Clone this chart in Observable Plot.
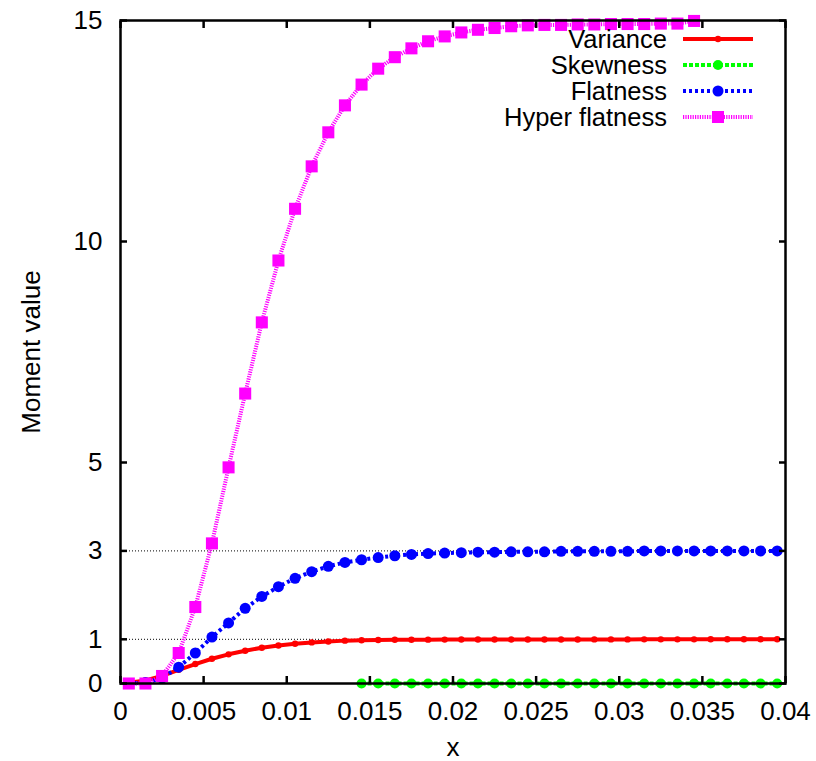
<!DOCTYPE html>
<html><head><meta charset="utf-8">
<script src="https://cdn.jsdelivr.net/npm/d3@7"></script>
<script src="https://cdn.jsdelivr.net/npm/@observablehq/plot@0.6"></script>
<style>
body{margin:0;background:#fff;}
#wrap{position:relative;width:816px;height:761px;font-family:"Liberation Sans",Arial,sans-serif;}
#legend{position:absolute;left:0;top:0;pointer-events:none;}
</style></head><body><div id="wrap"></div>
<script>
const xValues = [0.0005,0.0015,0.0025,0.0035,0.0045,0.0055,0.0065,0.0075,0.0085,0.0095,
  0.0105,0.0115,0.0125,0.0135,0.0145,0.0155,0.0165,0.0175,0.0185,0.0195,
  0.0205,0.0215,0.0225,0.0235,0.0245,0.0255,0.0265,0.0275,0.0285,0.0295,
  0.0305,0.0315,0.0325,0.0335,0.0345,0.0355,0.0365,0.0375,0.0385,0.0395];
const varianceValues = [0.02,0.07,0.17,0.31,0.44,0.56,0.66,0.74,0.81,0.86,
  0.90,0.93,0.95,0.97,0.98,0.985,0.99,0.99,0.992,0.993,
  0.994,0.995,0.995,0.996,0.996,0.997,0.997,0.997,0.998,0.998,
  0.998,0.999,0.999,0.999,0.999,1.0,1.0,1.0,1.0,1.0];
const skewnessValues = [null,null,null,null,null,null,null,null,null,null,
  null,null,null,null,0,0,0,0,0,0,
  0,0,0,0,0,0,0,0,0,0,
  0,0,0,0,0,0,0,0,0,0];
const flatnessValues = [0.0,0.02,0.12,0.37,0.69,1.05,1.37,1.70,1.97,2.19,
  2.38,2.53,2.65,2.74,2.80,2.85,2.89,2.92,2.94,2.95,
  2.96,2.97,2.97,2.98,2.98,2.98,2.99,2.99,2.99,2.99,
  2.99,3.0,3.0,3.0,3.0,3.0,3.0,3.0,3.0,3.0];
const hyperFlatnessValues = [0,0,0.17,0.69,1.73,3.17,4.89,6.56,8.17,9.57,
  10.74,11.70,12.47,13.08,13.55,13.91,14.17,14.37,14.53,14.64,
  14.73,14.79,14.83,14.87,14.89,14.90,14.90,14.91,14.91,14.92,
  14.92,14.92,14.93,14.93,14.99,null,null,null,null,null];

const seriesNames = ["Variance","Skewness","Flatness","Hyper flatness"];
const seriesColors = ["#ff0000","#00ff00","#0000ff","#ff00ff"];
const xTicks = [0,0.005,0.01,0.015,0.02,0.025,0.03,0.035,0.04];
const xTickLabels = ["0","0.005","0.01","0.015","0.02","0.025","0.03","0.035","0.04"];
const yTicks = [0,1,3,5,10,15];
const gridLines = [1,3];

// styles (not data)
const styles = {
  "Variance":       {dash: null,      r: 3.2, symbol: "circle", width: 4},
  "Skewness":       {dash: "4,2",     r: 5,   symbol: "circle", width: 4},
  "Flatness":       {dash: "3,3",     r: 5.5, symbol: "circle", width: 4},
  "Hyper flatness": {dash: "1.2,1.2", r: 6.8, symbol: "square", width: 4}
};

const seriesValues = [varianceValues, skewnessValues, flatnessValues, hyperFlatnessValues];
const table = seriesNames.map((name, s) =>
  xValues.map((x, i) => ({series: name, x, y: seriesValues[s][i]})).filter(d => d.y !== null));

const marks = [
  Plot.ruleY(gridLines, {stroke: "#000", strokeWidth: 1, strokeDasharray: "1,2"})
];
seriesNames.forEach((name, s) => {
  const st = styles[name];
  marks.push(Plot.line(table[s], {x: "x", y: "y", stroke: seriesColors[s], strokeWidth: st.width,
    strokeDasharray: st.dash, strokeLinecap: "butt"}));
});
seriesNames.forEach((name, s) => {
  const st = styles[name];
  marks.push(Plot.dot(table[s], {x: "x", y: "y", fill: seriesColors[s], r: st.r, symbol: st.symbol, stroke: "none"}));
});
marks.push(
  Plot.frame({stroke: "#000", strokeWidth: 2.5}),
  Plot.axisX(xTicks, {anchor: "bottom", tickSize: -7, strokeWidth: 2.5, tickFormat: () => "", label: null}),
  Plot.axisX(xTicks, {anchor: "top", tickSize: -7, strokeWidth: 2.5, tickFormat: () => "", label: null}),
  Plot.axisY(yTicks, {anchor: "left", tickSize: -7, strokeWidth: 2.5, tickFormat: () => "", label: null}),
  Plot.axisY(yTicks, {anchor: "right", tickSize: -7, strokeWidth: 2.5, tickFormat: () => "", label: null}),
  Plot.axisX(xTicks, {anchor: "bottom", tickSize: 0, tickPadding: 18, fontSize: 26, fill: "#000",
    tickFormat: (d, i) => xTickLabels[i], label: "x", labelAnchor: "center", labelArrow: "none", labelOffset: 72}),
  Plot.axisY(yTicks, {anchor: "left", tickSize: 0, tickPadding: 18, fontSize: 26, fill: "#000",
    tickFormat: d => String(d), label: "Moment value", labelAnchor: "center", labelArrow: "none", labelOffset: 99})
);

const chart = Plot.plot({
  width: 816, height: 761,
  marginLeft: 120, marginRight: 31, marginTop: 20, marginBottom: 78,
  x: {domain: [0, 0.04]},
  y: {domain: [0, 15]},
  style: {fontFamily: "Liberation Sans, Arial, sans-serif", fontSize: "26px", color: "#000", background: "#fff"},
  marks
});
const wrap = document.getElementById("wrap");
wrap.appendChild(chart);

// legend overlay (inside plot, top right)
const leg = d3.select(wrap).append("svg").attr("id", "legend").attr("width", 816).attr("height", 140);
seriesNames.forEach((name, s) => {
  const st = styles[name];
  const cy = 39 + s * 26;
  leg.append("text").attr("x", 667).attr("y", cy + 9).attr("text-anchor", "end")
    .attr("font-family", "Liberation Sans, Arial, sans-serif").attr("font-size", 25.5).attr("fill", "#000").text(name);
  leg.append("line").attr("x1", 683).attr("x2", 753).attr("y1", cy).attr("y2", cy)
    .attr("stroke", seriesColors[s]).attr("stroke-width", st.width)
    .attr("stroke-dasharray", st.dash);
  const sym = d3.symbol(st.symbol === "square" ? d3.symbolSquare : d3.symbolCircle, st.r * st.r * Math.PI);
  leg.append("path").attr("d", sym()).attr("transform", `translate(718,${cy})`).attr("fill", seriesColors[s]);
});
</script></body></html>
